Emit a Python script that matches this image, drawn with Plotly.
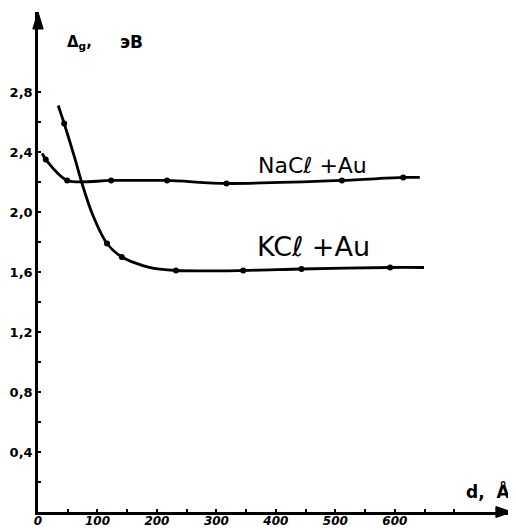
import plotly.graph_objects as go

# ---- data ----
nacl_curve_d = [7, 13, 49, 123, 217, 317, 511, 614, 642]
nacl_curve_e = [2.39, 2.35, 2.21, 2.21, 2.21, 2.19, 2.21, 2.23, 2.23]
nacl_pts_d = [13, 49, 123, 217, 317, 511, 614]
nacl_pts_e = [2.35, 2.21, 2.21, 2.21, 2.19, 2.21, 2.23]

kcl_curve_d = [34, 44, 61, 74, 91, 116, 141, 187, 232, 345, 443, 592, 649]
kcl_curve_e = [2.71, 2.59, 2.37, 2.19, 1.99, 1.79, 1.70, 1.63, 1.61, 1.61, 1.62, 1.63, 1.63]
kcl_pts_d = [44, 116, 141, 232, 345, 443, 592]
kcl_pts_e = [2.59, 1.79, 1.70, 1.61, 1.61, 1.62, 1.63]

x_tick_vals = [0, 100, 200, 300, 400, 500, 600]
x_tick_text = ["0", "100", "200", "300", "400", "500", "600"]
x_minor_vals = [50, 150, 250, 350, 450, 550, 650, 700]
y_tick_vals = [0.4, 0.8, 1.2, 1.6, 2.0, 2.4, 2.8]
y_tick_text = ["0,4", "0,8", "1,2", "1,6", "2,0", "2,4", "2,8"]
y_minor_vals = [0.2, 0.6, 1.0, 1.4, 1.8, 2.2, 2.6]

fig = go.Figure()
for cd, ce, pd_, pe in [(nacl_curve_d, nacl_curve_e, nacl_pts_d, nacl_pts_e),
                        (kcl_curve_d, kcl_curve_e, kcl_pts_d, kcl_pts_e)]:
    fig.add_trace(go.Scatter(x=cd, y=ce, mode="lines",
                             line=dict(color="black", width=2.8, shape="spline", smoothing=0.8),
                             showlegend=False, hoverinfo="skip"))
    fig.add_trace(go.Scatter(x=pd_, y=pe, mode="markers",
                             marker=dict(color="black", size=6),
                             showlegend=False))

fig.update_layout(
    width=508, height=522,
    margin=dict(l=30, r=4, t=4, b=18),
    paper_bgcolor="white", plot_bgcolor="white",
    xaxis=dict(range=[0, 797], showgrid=False, zeroline=False, automargin=False,
               showline=True, linecolor="black", linewidth=2.5,
               tickvals=x_tick_vals, ticktext=["<b><i>%s</i></b>" % t for t in x_tick_text],
               ticks="inside", ticklen=3, tickwidth=2, tickcolor="black",
               ticklabelstandoff=-4,
               minor=dict(tickmode="array", tickvals=x_minor_vals, ticks="inside",
                          ticklen=3, tickwidth=2, tickcolor="black", showgrid=False),
               tickfont=dict(family="DejaVu Sans", size=12, color="black")),
    yaxis=dict(range=[0, 3.333], showgrid=False, zeroline=False, automargin=False,
               showline=True, linecolor="black", linewidth=2.5,
               tickvals=y_tick_vals, ticktext=["<b>%s</b>" % t for t in y_tick_text],
               ticks="inside", ticklen=3, tickwidth=2, tickcolor="black",
               minor=dict(tickmode="array", tickvals=y_minor_vals, ticks="inside",
                          ticklen=3, tickwidth=2, tickcolor="black", showgrid=False),
               tickfont=dict(family="DejaVu Sans", size=13, color="black")),
)

# axis arrowheads (paper coordinates)
fig.add_shape(type="path", xref="paper", yref="paper",
              path="M 1 0 L 0.966 0.011 L 0.966 -0.011 Z",
              fillcolor="black", line=dict(color="black", width=1))
fig.add_shape(type="path", xref="paper", yref="paper",
              path="M 0 1 L 0.011 0.966 L -0.011 0.966 Z",
              fillcolor="black", line=dict(color="black", width=1))

# labels
fig.add_annotation(xref="x", yref="y", x=70, y=3.13, text="<b>Δ<sub>g</sub>,</b>",
                   showarrow=False, font=dict(family="DejaVu Sans", size=15, color="black"))
fig.add_annotation(xref="x", yref="y", x=158, y=3.13, text="<b>эВ</b>",
                   showarrow=False, font=dict(family="DejaVu Sans", size=17, color="black"))
fig.add_annotation(xref="x", yref="y", x=797, y=0.14, xanchor="right", text="<b>d,  Å</b>",
                   showarrow=False, font=dict(family="DejaVu Sans", size=17, color="black"))
fig.add_annotation(xref="x", yref="y", x=462, y=2.31, text="NaCℓ +Au",
                   showarrow=False, font=dict(family="DejaVu Sans", size=22, color="black"))
fig.add_annotation(xref="x", yref="y", x=464, y=1.77, text="KCℓ +Au",
                   showarrow=False, font=dict(family="DejaVu Sans", size=27, color="black"))

fig.write_html("out.html")
